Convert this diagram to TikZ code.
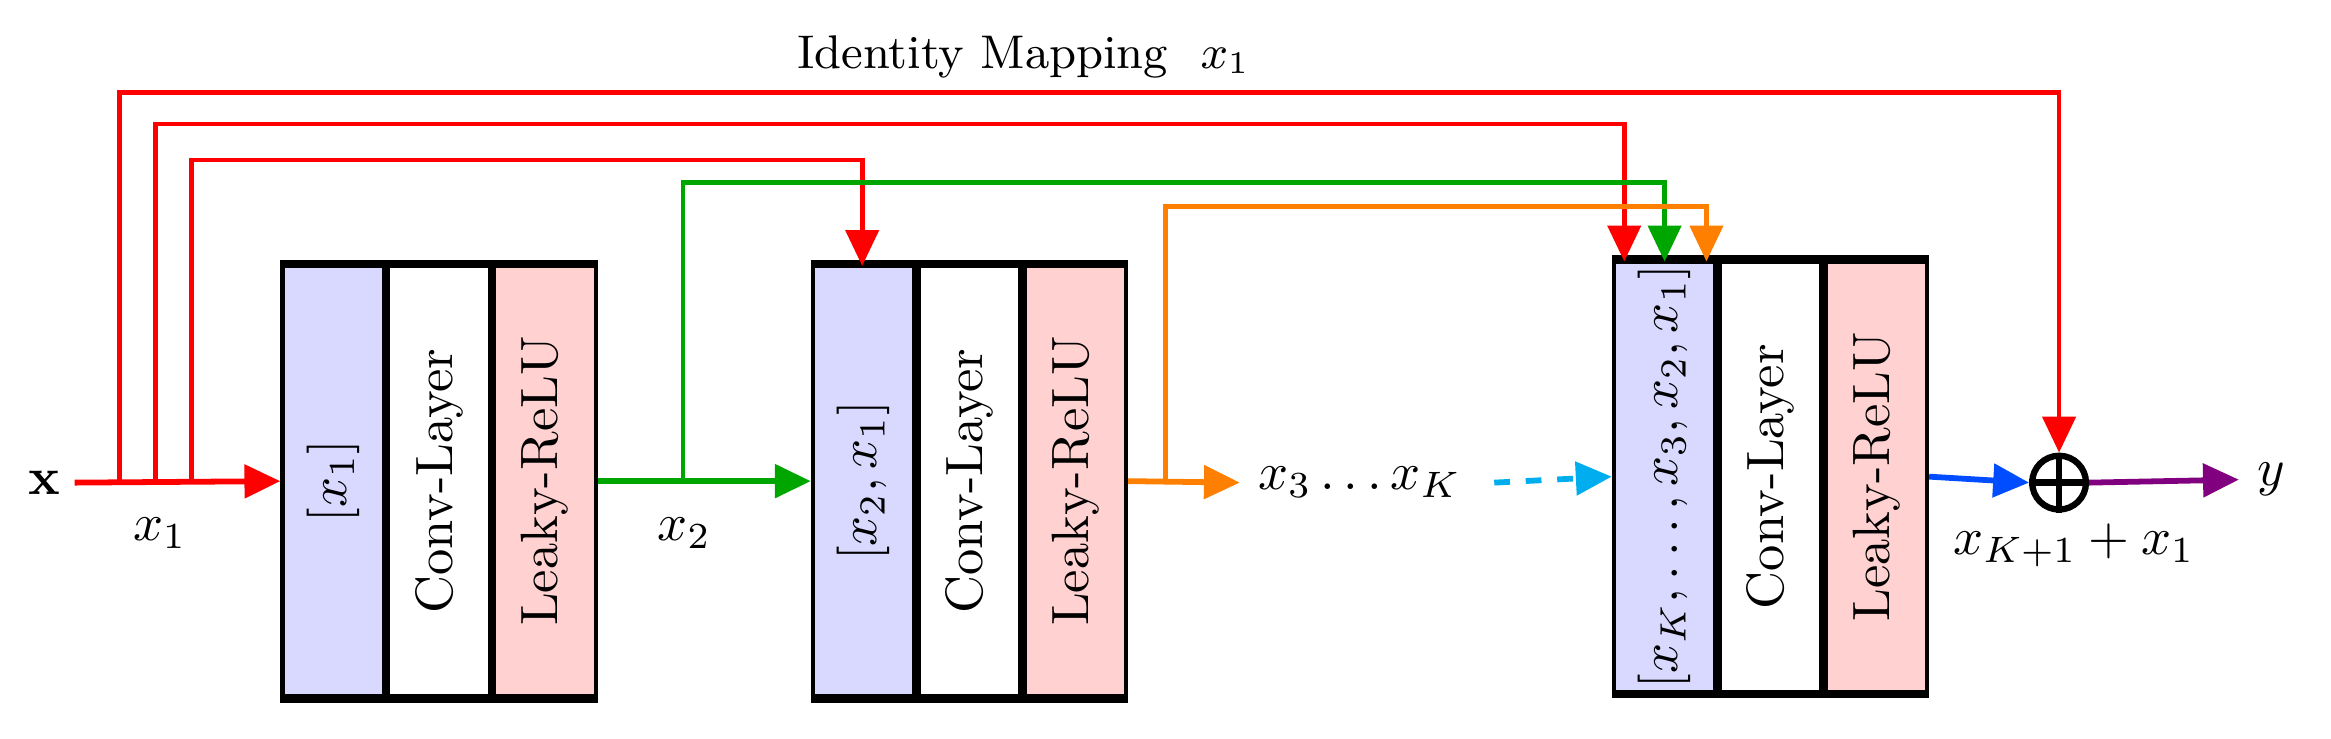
\documentclass[tikz,border=0pt]{standalone}
\usepackage{amsmath}
\usetikzlibrary{positioning,arrows.meta,calc}
\tikzstyle{inbox}=[rectangle, draw=black, fill=blue!15!white, thick, minimum width=6.8mm, minimum height=28.8mm, inner sep=0pt, text centered]
\tikzstyle{convbox}=[inbox, fill=white]
\tikzstyle{relubox}=[inbox, fill=red!18!white]
\tikzstyle{line}=[-{Triangle[length=2.4mm,width=2.2mm]}, line width=1.1pt]
\newcommand\blk[3]{
            \node (#1a) [inbox] at (#2) {\rotatebox{90}{$#3$}};
            \node (#1b) [convbox, right=0mm of #1a] {\rotatebox{90}{Conv-Layer}};
            \node (#1c) [relubox, right=0mm of #1b] {\rotatebox{90}{Leaky-ReLU}};
            \draw[line width=1.6pt] (#1a.north west) -- (#1c.north east);
            \draw[line width=1.6pt] (#1a.south west) -- (#1c.south east);
        }
\begin{document}
\begin{tikzpicture}[x=1cm,y=1cm]
    \useasboundingbox (0,0) rectangle (15.6,4.94);

    \blk{bA}{2.23,1.72}{[x_1]}
    \blk{bB}{5.78,1.72}{[x_2, x_1]}
    \blk{bC}{11.14,1.75}{[x_K, \ldots, x_3, x_2, x_1]}

    \node (x) at (0.3,1.71) {$\mathbf{x}$};
    \node (plus) [circle, draw, line width=1.2pt, inner sep=0pt, minimum size=3.6mm] at (13.78,1.71) {};
    \draw[line width=1.2pt] (plus.north) -- (plus.south) (plus.west) -- (plus.east);
    \node (y) at (15.2,1.73) {$y$};
    \node (xk) at (9.1,1.71) {$x_3 \ldots x_K$};

    \coordinate (s1) at (0.8,1.71);
    \coordinate (s2) at (1.04,1.71);
    \coordinate (s3) at (1.28,1.71);
    \coordinate (g) at (4.57,1.71);
    \coordinate (o) at (7.8,1.71);
    \coordinate (x0) at (0.5,1.71);
    \coordinate (d0) at (10.0,1.71);

    \node at (1.07,1.37) {$x_1$};
    \node at (4.58,1.37) {$x_2$};
    \node at (13.88,1.29) {$x_{K+1} + x_1$};
    \node at (6.85,4.56) {\small Identity Mapping\ \ $x_1$};

%main path
   \draw[line, red] (x0) -- (bAa.west);
   \draw[line, green!65!black] (bAc.east) -- (bBa.west);
   \draw[line, orange] (bBc.east) -- (xk.west);
   \draw[line, cyan, dashed] (d0) -- (bCa.west);
   \draw[line, blue!70!cyan] (bCc.east) -- (plus.west);
   \draw[line, violet] (plus.east) -- (y.west);

%skip lines
   \draw[line, red, line width=0.9pt] (s1) |- (13.78,4.32) -- (plus.north);
   \draw[line, red, line width=0.9pt] (s2) |- (10.87,4.11) -- (10.87,3.19);
   \draw[line, red, line width=0.9pt] (s3) |- (5.77,3.87) -- (5.77,3.16);
   \draw[line, green!65!black, line width=0.9pt] (g) |- (11.14,3.72) -- (11.14,3.19);
   \draw[line, orange, line width=0.9pt] (o) |- (11.42,3.56) -- (11.42,3.19);

\end{tikzpicture}
\end{document}
